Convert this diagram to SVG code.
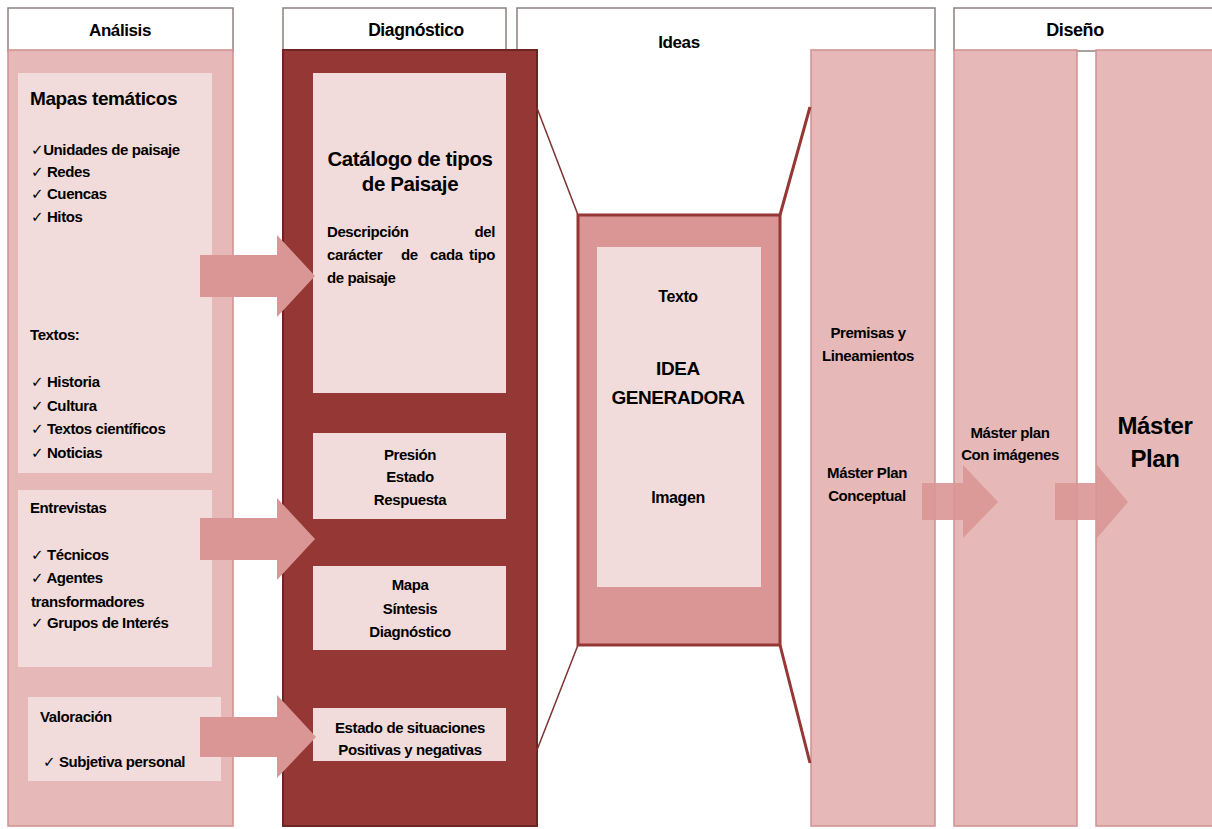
<svg xmlns="http://www.w3.org/2000/svg" width="1212" height="829" viewBox="0 0 1212 829">
<style>
.t{font-family:"Liberation Sans","DejaVu Sans",sans-serif;font-weight:bold;fill:#000;letter-spacing:-0.4px}
.s13{font-size:15px}
.c{text-anchor:middle}
.hdr{fill:#fff;stroke:#8c8080;stroke-width:1.5}
.panel{fill:#e6b9b8;stroke:#cf8f8e;stroke-width:1.5}
.inner{fill:#f2dcdb}
.arrow{fill:#d99694}
.dark{fill:#953735;stroke:#6b2624;stroke-width:2}
</style>
<rect width="1212" height="829" fill="#fff"/>

<!-- headers -->
<g id="hdr-analisis"><rect class="hdr" x="8" y="8" width="225" height="43"/><text class="t c" x="120" y="36" font-size="17">Análisis</text></g>
<g id="hdr-diagnostico"><rect class="hdr" x="283" y="8" width="223" height="43"/><text class="t c" x="416" y="36" font-size="17.5">Diagnóstico</text></g>
<g id="hdr-ideas"><path class="hdr" d="M517,51 V8 H935 V51"/><text class="t c" x="679" y="48" font-size="17" font-weight="normal">Ideas</text></g>
<g id="hdr-diseno"><rect class="hdr" x="954" y="8" width="262" height="43"/><text class="t c" x="1075" y="36" font-size="18" font-weight="normal">Diseño</text></g>

<!-- Análisis column -->
<g id="analisis">
<rect class="panel" x="8" y="50" width="225" height="776"/>
</g>
<g id="mapas">
<rect class="inner" x="18" y="73" width="194" height="400"/>
<text class="t" x="30" y="105" font-size="19">Mapas temáticos</text>
<text class="t s13" x="31" y="155">✓Unidades de paisaje</text>
<text class="t s13" x="31" y="177">✓ Redes</text>
<text class="t s13" x="31" y="199">✓ Cuencas</text>
<text class="t s13" x="31" y="222">✓ Hitos</text>
<text class="t s13" x="30" y="340">Textos:</text>
<text class="t s13" x="31" y="387">✓ Historia</text>
<text class="t s13" x="31" y="411">✓ Cultura</text>
<text class="t s13" x="31" y="434">✓ Textos científicos</text>
<text class="t s13" x="31" y="458">✓ Noticias</text>
</g>
<g id="entrevistas">
<rect class="inner" x="18" y="490" width="194" height="177"/>
<text class="t s13" x="30" y="513">Entrevistas</text>
<text class="t s13" x="31" y="560">✓ Técnicos</text>
<text class="t s13" x="31" y="583">✓ Agentes</text>
<text class="t s13" x="31" y="607">transformadores</text>
<text class="t s13" x="31" y="628">✓ Grupos de Interés</text>
</g>
<g id="valoracion">
<rect class="inner" x="28" y="697" width="193" height="84"/>
<text class="t s13" x="40" y="722">Valoración</text>
<text class="t s13" x="43" y="767">✓  Subjetiva personal</text>
</g>

<!-- Diagnóstico column -->
<g id="diagnostico">
<rect class="dark" x="283" y="50" width="254" height="776"/>
</g>
<g id="catalogo">
<rect class="inner" x="313" y="73" width="193" height="320"/>
<text class="t c" x="410" y="166" font-size="20.5">Catálogo de tipos</text>
<text class="t c" x="410" y="191" font-size="20.5">de Paisaje</text>
<text class="t s13" x="327" y="237">Descripción</text>
<text class="t s13" x="495" y="237" text-anchor="end">del</text>
<text class="t s13" x="327" y="260">carácter</text>
<text class="t s13" x="401" y="260">de</text>
<text class="t s13" x="430" y="260">cada</text>
<text class="t s13" x="495" y="260" text-anchor="end">tipo</text>
<text class="t s13" x="327" y="283">de paisaje</text>
</g>
<g id="presion">
<rect class="inner" x="313" y="433" width="193" height="86"/>
<text class="t s13 c" x="410" y="460">Presión</text>
<text class="t s13 c" x="410" y="482">Estado</text>
<text class="t s13 c" x="410" y="505">Respuesta</text>
</g>
<g id="mapa-sintesis">
<rect class="inner" x="313" y="566" width="193" height="84"/>
<text class="t s13 c" x="410" y="590">Mapa</text>
<text class="t s13 c" x="410" y="614">Síntesis</text>
<text class="t s13 c" x="410" y="637">Diagnóstico</text>
</g>
<g id="estado">
<rect class="inner" x="313" y="708" width="193" height="53"/>
<text class="t s13 c" x="410" y="733">Estado de situaciones</text>
<text class="t s13 c" x="410" y="755">Positivas y negativas</text>
</g>

<!-- Diseño columns -->
<g id="premisas">
<rect class="panel" x="811" y="50" width="124" height="776"/>
<text class="t s13 c" x="868" y="338">Premisas y</text>
<text class="t s13 c" x="868" y="361">Lineamientos</text>
<text class="t s13 c" x="867" y="478">Máster Plan</text>
<text class="t s13 c" x="867" y="501">Conceptual</text>
</g>
<g id="con-imagenes">
<rect class="panel" x="954" y="50" width="123" height="776"/>
<text class="t s13 c" x="1010" y="438">Máster plan</text>
<text class="t s13 c" x="1010" y="460">Con imágenes</text>
</g>
<g id="master-plan">
<rect class="panel" x="1096" y="50" width="120" height="776"/>
<text class="t c" x="1155" y="434" font-size="24">Máster</text>
<text class="t c" x="1155" y="467" font-size="24">Plan</text>
</g>

<!-- connectors -->
<g id="connectors">
<line x1="537" y1="108" x2="578" y2="215" stroke="#7a3331" stroke-width="1.5"/>
<line x1="578" y1="645" x2="537" y2="750" stroke="#7a3331" stroke-width="1.5"/>
<line x1="780" y1="215" x2="810" y2="107" stroke="#953735" stroke-width="3"/>
<line x1="780" y1="645" x2="810" y2="763" stroke="#953735" stroke-width="3"/>
<polygon class="arrow" points="200,255 277,255 277,235 315,276 277,317 277,297 200,297"/>
<polygon class="arrow" points="200,518 277,518 277,498 315,539 277,580 277,560 200,560"/>
<polygon class="arrow" points="200,717 277,717 277,695 316,737 277,778 277,757 200,757"/>
<polygon class="arrow" points="922,483 963,483 963,465 998,502 963,538 963,520 922,520" opacity="0.9"/>
<polygon class="arrow" points="1055,483 1097,483 1097,465 1128,502 1097,538 1097,520 1055,520" opacity="0.9"/>
</g>

<!-- Ideas node -->
<g id="idea-generadora">
<rect x="578" y="215" width="202" height="430" fill="#da9694" stroke="#953735" stroke-width="3"/>
<rect class="inner" x="597" y="247" width="164" height="340"/>
<text class="t c" x="678" y="302" font-size="16">Texto</text>
<text class="t c" x="678" y="375" font-size="19">IDEA</text>
<text class="t c" x="678" y="404" font-size="19">GENERADORA</text>
<text class="t c" x="678" y="503" font-size="16">Imagen</text>
</g>
</svg>
